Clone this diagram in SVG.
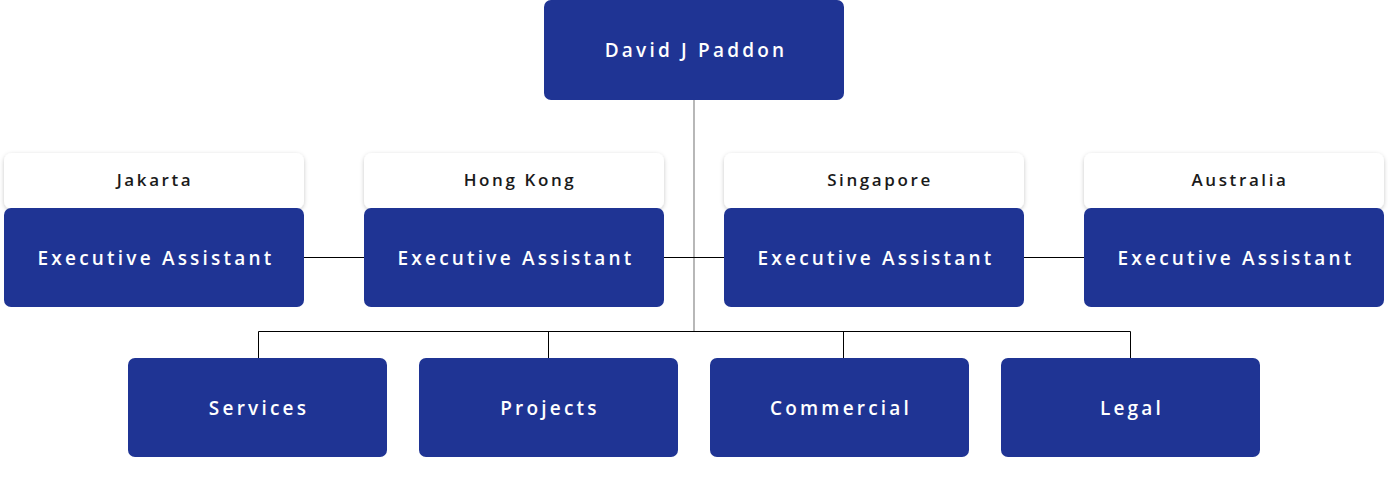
<svg xmlns="http://www.w3.org/2000/svg" width="1388" height="488" viewBox="0 0 1388 488">
<style>
.box{fill:#1f3494}
.lbl{fill:#ffffff}
.t{font-family:"Open Sans","Liberation Sans",sans-serif;font-size:19px;font-weight:600;fill:#ffffff;text-anchor:middle;dominant-baseline:central;letter-spacing:3.2px}
.c{font-family:"Open Sans","Liberation Sans",sans-serif;font-size:17px;font-weight:600;fill:#1a1a1a;text-anchor:middle;dominant-baseline:central;letter-spacing:2.6px}
.ln{stroke:#000;stroke-width:1;fill:none}
</style>
<defs>
<filter id="sh" x="-10%" y="-30%" width="120%" height="160%">
<feDropShadow dx="0" dy="1.5" stdDeviation="2" flood-color="#000" flood-opacity="0.22"/>
</filter>
</defs>
<g id="connectors">
<line x1="694" y1="100" x2="694" y2="331" stroke="#888" stroke-width="1.2"/>
<path class="ln" d="M304 257.5H364M664 257.5H724M1024 257.5H1084"/>
<path class="ln" d="M258.5 358V331.5H1130.5V358M548.5 331.5V358M843.5 331.5V358"/>
</g>
<g id="ceo"><rect class="box" x="544" y="0" width="300" height="100" rx="7"/><text class="t" x="696" y="50">David J Paddon</text></g>
<g id="jakarta"><rect class="lbl" filter="url(#sh)" x="4" y="153" width="300" height="56" rx="8"/><text class="c" x="155" y="179">Jakarta</text><rect class="box" x="4" y="208" width="300" height="99" rx="7"/><text class="t" x="156" y="258">Executive Assistant</text></g>
<g id="hongkong"><rect class="lbl" filter="url(#sh)" x="364" y="153" width="300" height="56" rx="8"/><text class="c" x="520" y="179">Hong Kong</text><rect class="box" x="364" y="208" width="300" height="99" rx="7"/><text class="t" x="516" y="258">Executive Assistant</text></g>
<g id="singapore"><rect class="lbl" filter="url(#sh)" x="724" y="153" width="300" height="56" rx="8"/><text class="c" x="880" y="179">Singapore</text><rect class="box" x="724" y="208" width="300" height="99" rx="7"/><text class="t" x="876" y="258">Executive Assistant</text></g>
<g id="australia"><rect class="lbl" filter="url(#sh)" x="1084" y="153" width="300" height="56" rx="8"/><text class="c" x="1240" y="179">Australia</text><rect class="box" x="1084" y="208" width="300" height="99" rx="7"/><text class="t" x="1236" y="258">Executive Assistant</text></g>
<g id="services"><rect class="box" x="128" y="358" width="259" height="99" rx="7"/><text class="t" x="259" y="408">Services</text></g>
<g id="projects"><rect class="box" x="419" y="358" width="259" height="99" rx="7"/><text class="t" x="550" y="408">Projects</text></g>
<g id="commercial"><rect class="box" x="710" y="358" width="259" height="99" rx="7"/><text class="t" x="841" y="408">Commercial</text></g>
<g id="legal"><rect class="box" x="1001" y="358" width="259" height="99" rx="7"/><text class="t" x="1132" y="408">Legal</text></g>
</svg>
